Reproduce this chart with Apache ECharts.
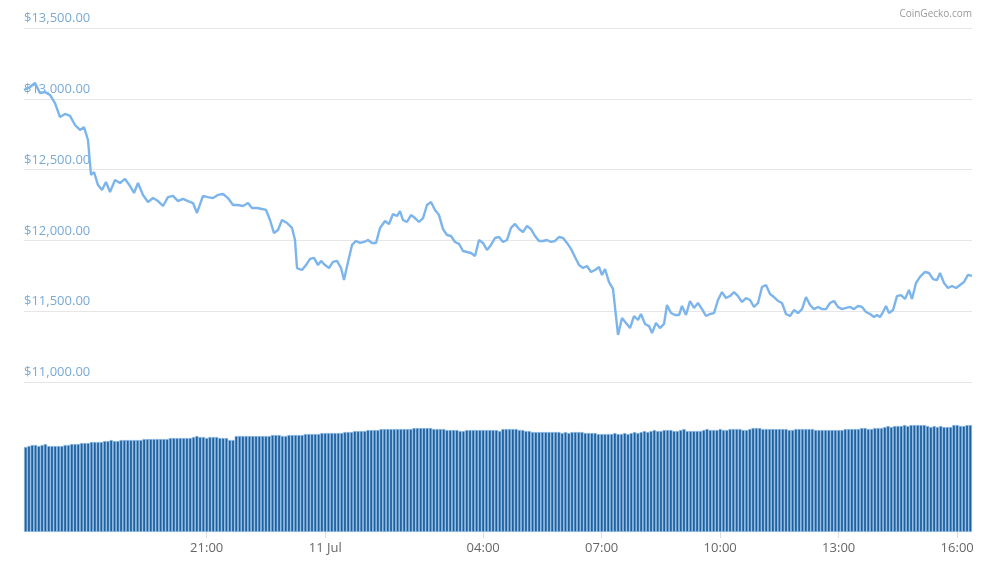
<!DOCTYPE html>
<html><head><meta charset="utf-8">
<script src="https://cdn.jsdelivr.net/npm/echarts@6/dist/echarts.min.js"></script>
<style>html,body{margin:0;padding:0;background:#fff}#c{width:984px;height:564px}</style>
</head><body><div id="c"></div>
<script>
// horizontal reading positions of each price sample (pixel-scale time readings, 24 = 16:25, 39.5 per hour)
const priceReadX = [24,30,35,40,45,50,55,60,65,70,75,80,84,88,91,94,98,102,106,110,115,120,125,130,134,138,143,148,153,158,163,168,173,178,183,188,193,197,203,208,213,218,223,228,233,238,243,248,252,257,262,266,270,274,278,282,287,292,295,297,302,306,310,314,318,321,325,329,333,337,341,344,348,352,356,360,364,368,372,376,380,385,389,393,397,400,403,407,411,415,419,423,427,431,435,439,443,447,451,455,459,463,467,471,475,479,483,487,491,495,499,503,507,511,515,519,523,527,531,535,539,543,547,551,555,559,563,567,571,575,579,583,587,591,595,599,602,605,609,613,615,618,622,626,630,634,638,641,645,649,652,656,660,664,667,671,675,679,682,686,690,694,698,702,706,710,714,718,722,726,730,734,738,742,746,750,754,758,762,766,770,774,778,782,786,790,794,798,802,806,810,814,818,822,826,830,834,838,842,846,850,854,858,862,866,870,874,877,880,883,886,889,893,897,901,905,909,912,916,920,925,929,933,937,940,944,948,952,956,960,964,968,972];
const priceValues = [13062,13083,13112,13041,13048,13027,12970,12871,12893,12879,12815,12780,12800,12709,12462,12483,12391,12356,12412,12342,12427,12405,12434,12384,12335,12405,12321,12271,12299,12278,12243,12306,12314,12278,12293,12278,12264,12194,12314,12306,12299,12321,12328,12299,12250,12250,12243,12264,12229,12229,12222,12215,12144,12052,12073,12144,12123,12088,12003,11805,11791,11826,11869,11876,11826,11855,11826,11805,11848,11855,11805,11720,11848,11968,11996,11982,11989,12003,11982,11982,12088,12137,12116,12186,12172,12207,12144,12130,12179,12158,12130,12158,12250,12271,12215,12179,12080,12038,12031,11989,11975,11925,11918,11911,11890,12003,11982,11932,11968,12017,12024,11989,12003,12088,12116,12080,12059,12102,12080,12031,11996,11996,12003,11989,11996,12024,12017,11982,11940,11883,11826,11805,11819,11777,11791,11812,11756,11798,11706,11657,11671,11332,11452,11417,11381,11466,11438,11480,11410,11395,11346,11417,11381,11410,11544,11487,11473,11473,11537,11473,11572,11523,11558,11515,11466,11480,11487,11579,11635,11593,11607,11635,11607,11565,11593,11579,11530,11558,11671,11685,11621,11600,11572,11558,11480,11466,11508,11487,11515,11600,11544,11515,11530,11515,11515,11558,11572,11530,11515,11523,11530,11515,11537,11530,11494,11480,11459,11473,11459,11494,11537,11487,11508,11607,11614,11586,11650,11586,11699,11742,11777,11770,11727,11720,11770,11699,11664,11678,11664,11685,11706,11756,11749];
const volumeTops = [
447,446,445,445,446,445,444,446,446,446,446,446,
445,445,444,444,444,443,443,443,442,442,442,442,
441,441,440,441,441,440,440,440,440,440,440,440,
439,439,439,439,439,439,439,439,438,438,438,438,
438,438,438,437,436,437,437,438,437,437,437,438,
438,438,440,440,436,436,436,436,436,436,436,436,
436,436,436,435,435,435,436,436,435,435,435,435,
435,434,434,434,434,434,433,433,433,433,433,433,
433,432,432,432,431,431,431,431,430,430,430,430,
429,429,429,429,429,429,429,429,429,429,428,428,
428,428,428,428,429,429,429,429,430,430,430,430,
431,431,430,430,430,430,430,430,430,430,430,430,
431,429,429,429,429,429,430,430,431,431,432,432,
432,432,432,432,432,432,432,433,432,433,432,432,
432,432,433,433,433,433,434,434,434,434,434,433,
434,434,433,434,433,432,433,432,431,432,431,430,
431,431,430,430,430,431,431,430,429,431,431,431,
431,431,430,429,430,430,430,429,430,430,429,429,
429,429,430,430,429,428,428,428,429,429,429,429,
429,429,429,429,430,430,429,429,429,429,429,429,
430,430,430,430,430,430,430,430,430,429,429,429,
429,429,428,428,429,429,428,428,428,427,426,427,
426,426,426,425,426,425,425,425,425,425,426,427,
426,427,426,427,427,427,425,425,426,426,425,425];
const volumeValues = volumeTops.map(t => 532 - t);
const tickLabels = ['21:00','11 Jul','04:00','07:00','10:00','13:00','16:00'];
const startMinutes = 16*60 + 25;
const categories = volumeValues.map((v,i) => {
  const m = (startMinutes + i*5) % 1440;
  const h = Math.floor(m/60), mm = m%60;
  if (m === 0) return '11 Jul';
  return String(h).padStart(2,'0') + ':' + String(mm).padStart(2,'0');
});
const priceData = priceValues.map((v,i) => [(priceReadX[i]-24)/39.5*60, v]);
const showIdx = (i, v) => tickLabels.indexOf(v) >= 0;
const chart = echarts.init(document.getElementById('c'));
chart.setOption({
  animation:false,
  textStyle:{fontFamily:'Open Sans'},
  graphic:[{type:'text',right:12,top:9,style:{text:'CoinGecko.com',fill:'#999',font:'10px "Open Sans"'}}],
  grid:[{left:24,right:12,top:28,bottom:182},{left:24,right:12,top:400,bottom:32}],
  xAxis:[
    {type:'value',gridIndex:0,min:0,max:1440,show:false},
    {type:'category',gridIndex:1,data:categories,boundaryGap:true,
     axisLine:{show:false},
     axisTick:{show:true,interval:showIdx,alignWithLabel:true,length:6,lineStyle:{color:'#ddd'}},
     axisLabel:{interval:showIdx,color:'#666',fontSize:13,margin:10}}
  ],
  yAxis:[
    {type:'value',gridIndex:0,min:11000,max:13500,interval:500,
     axisLine:{show:false},axisTick:{show:false},
     splitLine:{lineStyle:{color:'#e6e6e6'}},
     axisLabel:{inside:true,margin:0,verticalAlign:'bottom',padding:[0,0,3,0],color:'#79aad6',fontSize:13,
       formatter:v=>'$'+v.toLocaleString('en-US',{minimumFractionDigits:2,maximumFractionDigits:2})}},
    {type:'value',gridIndex:1,min:0,max:132,show:false,splitLine:{show:false}}
  ],
  series:[
    {type:'line',xAxisIndex:0,yAxisIndex:0,data:priceData,showSymbol:false,
     lineStyle:{color:'#7cb5ec',width:2.4},itemStyle:{color:'#7cb5ec'}},
    {type:'bar',xAxisIndex:1,yAxisIndex:1,data:volumeValues,barCategoryGap:'0%',
     itemStyle:{color:'#1f5f9c',borderColor:'#8fbfe9',borderWidth:0.7}}
  ]
});
</script></body></html>
